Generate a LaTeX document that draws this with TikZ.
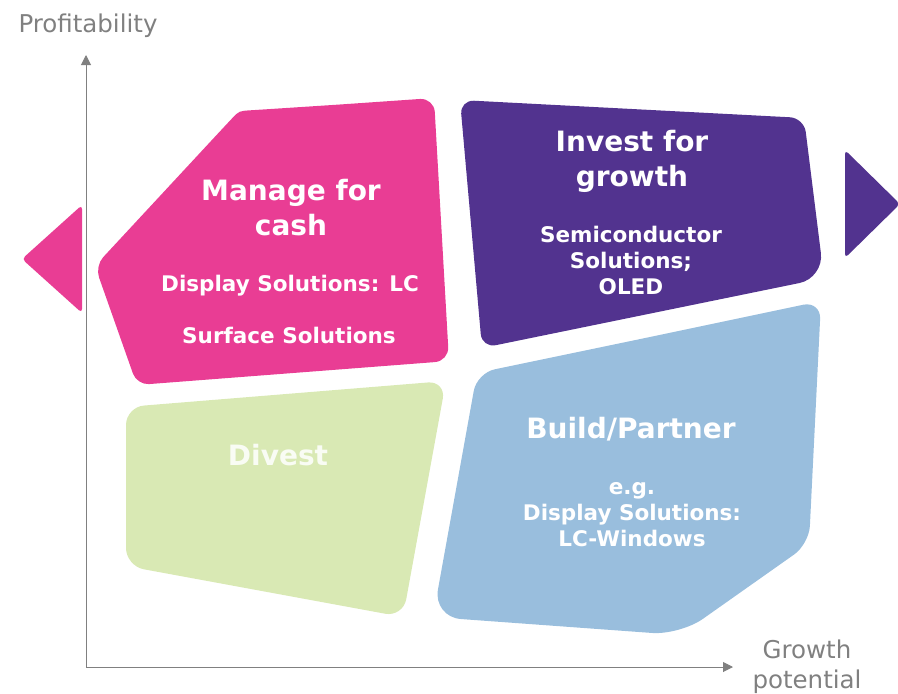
\documentclass[tikz,border=0pt]{standalone}
\usepackage{fontspec}
\setmainfont{DejaVu Sans}
\usetikzlibrary{arrows.meta}

\definecolor{quadrose}{RGB}{233,61,148}
\definecolor{quadviolet}{RGB}{82,51,143}
\definecolor{quadvert}{RGB}{217,233,180}
\definecolor{quadbleu}{RGB}{153,190,221}
\definecolor{axegris}{RGB}{128,128,128}
\newcommand{\titre}{\fontsize{28}{35}\selectfont\bfseries}
\newcommand{\detail}{\fontsize{21.5}{25.7}\selectfont\bfseries}

\tikzset{
	axe/.style={draw=axegris, line width=1pt, -{Triangle[length=10pt, width=10pt]}},
	etiquette/.style={inner sep=0pt, anchor=base, align=center, text=white},
	axetexte/.style={inner sep=0pt, anchor=base, align=center, text=axegris, font=\fontsize{24.5}{30}\selectfont},
}

\begin{document}
\begin{tikzpicture}[x=1pt, y=-1pt]
			\useasboundingbox (0,0) rectangle (898,694);
			\begin{scope}
				\fill[quadrose, rounded corners=4pt] (82,205) -- (82,313) -- (22,259) -- cycle;
				\fill[quadviolet, rounded corners=4pt] (845,150) -- (845,258) -- (900,204) -- cycle;
			\end{scope}
			\begin{scope}
				\fill[quadrose, rounded corners=14pt] (340,104.5) -- (434,98) -- (449,361) [rounded corners=12pt] -- (137,385) -- (95,266) -- (224,127) .. controls (239,111) .. (263,109.5) -- cycle;
				\fill[quadviolet, rounded corners=14pt] (632,109) -- (804,118) [rounded corners=25pt] -- (824,278) [rounded corners=14pt] -- (482,348) -- (460,100) -- cycle;
				\fill[quadvert, rounded corners=18pt] (286,394) -- (446,381) -- (403,617) -- (126,566) -- (126,407) -- cycle;
				\fill[quadbleu, rounded corners=18pt] (650,337) -- (821,301) -- (809,544) [rounded corners=28pt] -- (680,635) -- (433,617) [rounded corners=18pt] -- (477,373) -- cycle;
			\end{scope}
			\begin{scope}
				\coordinate (origine) at (86,667);
				\coordinate (haut) at (86,55);
				\coordinate (droite) at (733,667);
				\draw[axe] (origine) -- (haut);
				\draw[axe] (origine) -- (droite);
				\node[axetexte] (profit) at (88,32) {Profitability};
				\node[axetexte] (croissance) at (807,688) {Growth\\potential};
			\end{scope}
			\node[etiquette, font=\titre] (gestion) at (291,235) {Manage for\\cash};
			\node[etiquette, font=\detail] (gestionA) at (290,291) {Display Solutions: LC};
			\node[etiquette, font=\detail] (gestionB) at (289,343) {Surface Solutions};
			\node[etiquette, font=\titre] (investir) at (632,186) {Invest for\\growth};
			\node[etiquette, font=\detail] (investirA) at (631,294) {Semiconductor\\Solutions;\\OLED};
			\node[etiquette, font=\titre, text=white!85!quadvert] (ceder) at (278,465) {Divest};
			\node[etiquette, font=\titre] (batir) at (631,438) {Build/Partner};
			\node[etiquette, font=\detail] (batirA) at (632,546) {e.g.\\Display Solutions:\\LC-Windows};
		\end{tikzpicture}
\end{document}
